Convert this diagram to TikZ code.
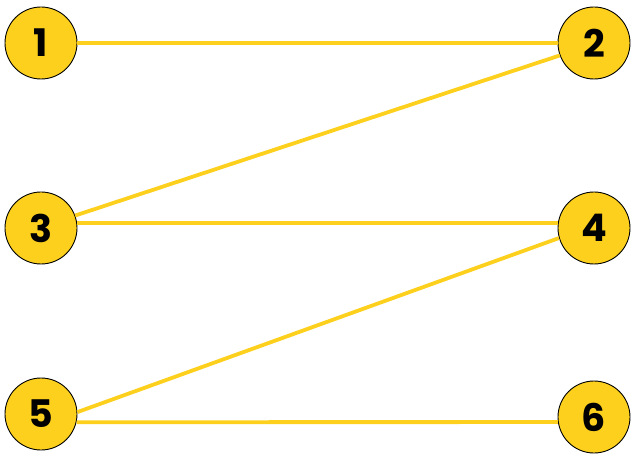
\documentclass[tikz,border=0pt]{standalone}
\usepackage{fontspec}
\setmainfont{Poppins}
\definecolor{gold}{HTML}{FDD01E}
\begin{document}
\begin{tikzpicture}[x=1pt,y=-1pt,
  vert/.style={circle,draw=black,line width=0.9pt,fill=gold,minimum size=72pt,inner sep=0pt,font=\fontsize{38}{38}\selectfont\bfseries},
  edge/.style={gold,line width=3.8pt}]
\useasboundingbox (0,0) rectangle (634,462);
\node[vert] (n1) at (41,43) {1};
\node[vert] (n2) at (594,43) {2};
\node[vert] (n3) at (41,228) {3};
\node[vert] (n4) at (594,228) {4};
\node[vert] (n5) at (41,414) {5};
\node[vert] (n6) at (594,417) {6};
\draw[edge] (n1) -- (n2);
\draw[edge] (n3.20) -- (n2.200);
\draw[edge] (n3.8) -- (n4.172);
\draw[edge] (n5.3) -- (n4.196);
\draw[edge] (n5.-13) -- (n6.188);
\end{tikzpicture}
\end{document}
